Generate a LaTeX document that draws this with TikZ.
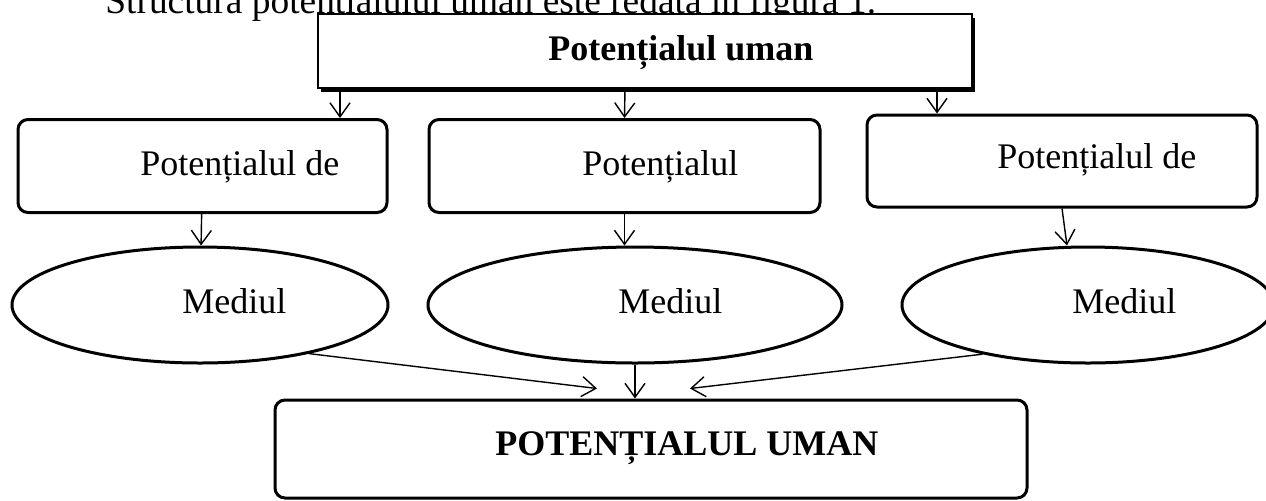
\documentclass[tikz,border=0pt]{standalone}
\usepackage{fontspec}
\setmainfont{Liberation Serif}
\usetikzlibrary{shapes.geometric,arrows.meta,shadows}
\tikzstyle{box} = [draw=black, fill=white, line width=1.5pt, rounded corners=5pt, inner sep=0pt]
\tikzstyle{oval} = [draw=black, fill=white, line width=1.5pt, ellipse, inner sep=0pt]
\tikzstyle{head} = [draw=black, fill=white, line width=1.3pt, inner sep=0pt, drop shadow={shadow xshift=1.6pt, shadow yshift=-1.8pt, fill=black, opacity=1}]
\tikzstyle{txt} = [anchor=base west, inner sep=0pt, font={\fontsize{18}{21}\selectfont}]
\tikzstyle{btxt} = [anchor=base west, inner sep=0pt, font={\fontsize{18}{21}\selectfont\bfseries}]
\tikzstyle{arr} = [-{Straight Barb[length=7pt,width=10pt]}, line width=0.7pt]

\begin{document}
\begin{tikzpicture}[x=0.5pt, y=-0.5pt]
    \useasboundingbox (0,0) rectangle (1266,500);
    \node[txt, font={\fontsize{18.7}{22}\selectfont}](cap) at (105,13){Structura potențialului uman este redată în figura 1.};
    \node[head, minimum width=327pt, minimum height=37pt](top) at (645,51){};
    \node[btxt](topt) at (548,60){Potențialul uman};
    \node[box, minimum width=184.5pt, minimum height=46.5pt](p1) at (202.5,166){};
    \node[box, minimum width=195.5pt, minimum height=46.5pt](p2) at (624.5,166){};
    \node[box, minimum width=195pt, minimum height=46pt](p3) at (1062,161){};
    \node[txt](p1t) at (140,175){Potențialul de};
    \node[txt](p2t) at (582,175){Potențialul};
    \node[txt](p3t) at (997,168){Potențialul de};
    \node[oval, minimum width=188pt, minimum height=58pt](m1) at (200,305){};
    \node[oval, minimum width=207pt, minimum height=58pt](m2) at (635,305){};
    \node[oval, minimum width=186pt, minimum height=58pt](m3) at (1088,305){};
    \node[txt](m1t) at (182,313){Mediul};
    \node[txt](m2t) at (618,313){Mediul};
    \node[txt](m3t) at (1072,313){Mediul};
    \node[box, minimum width=376pt, minimum height=49pt](u) at (651,449){};
    \node[btxt](ut) at (495,455){POTENȚIALUL UMAN};
    \draw[arr]([xshift=-152.5pt]top.south)--([xshift=68.75pt]p1.north);
    \draw[arr]([xshift=-10pt]top.south)--(p2.north);
    \draw[arr]([xshift=146pt]top.south)--([xshift=-62.5pt]p3.north);
    \draw[arr](p1)--(m1);
    \draw[arr](p2.south)--(p2.south|-m2.north);
    \draw[arr](p3.south)--([xshift=-10.5pt]m3.north);
    \draw[arr](m1.-24)--([xshift=-27pt,yshift=5pt]u.north);
    \draw[arr](m2.south)--(m2.south|-u.north);
    \draw[arr](m3.205)--([xshift=19.5pt,yshift=5pt]u.north);
\end{tikzpicture}
\end{document}
